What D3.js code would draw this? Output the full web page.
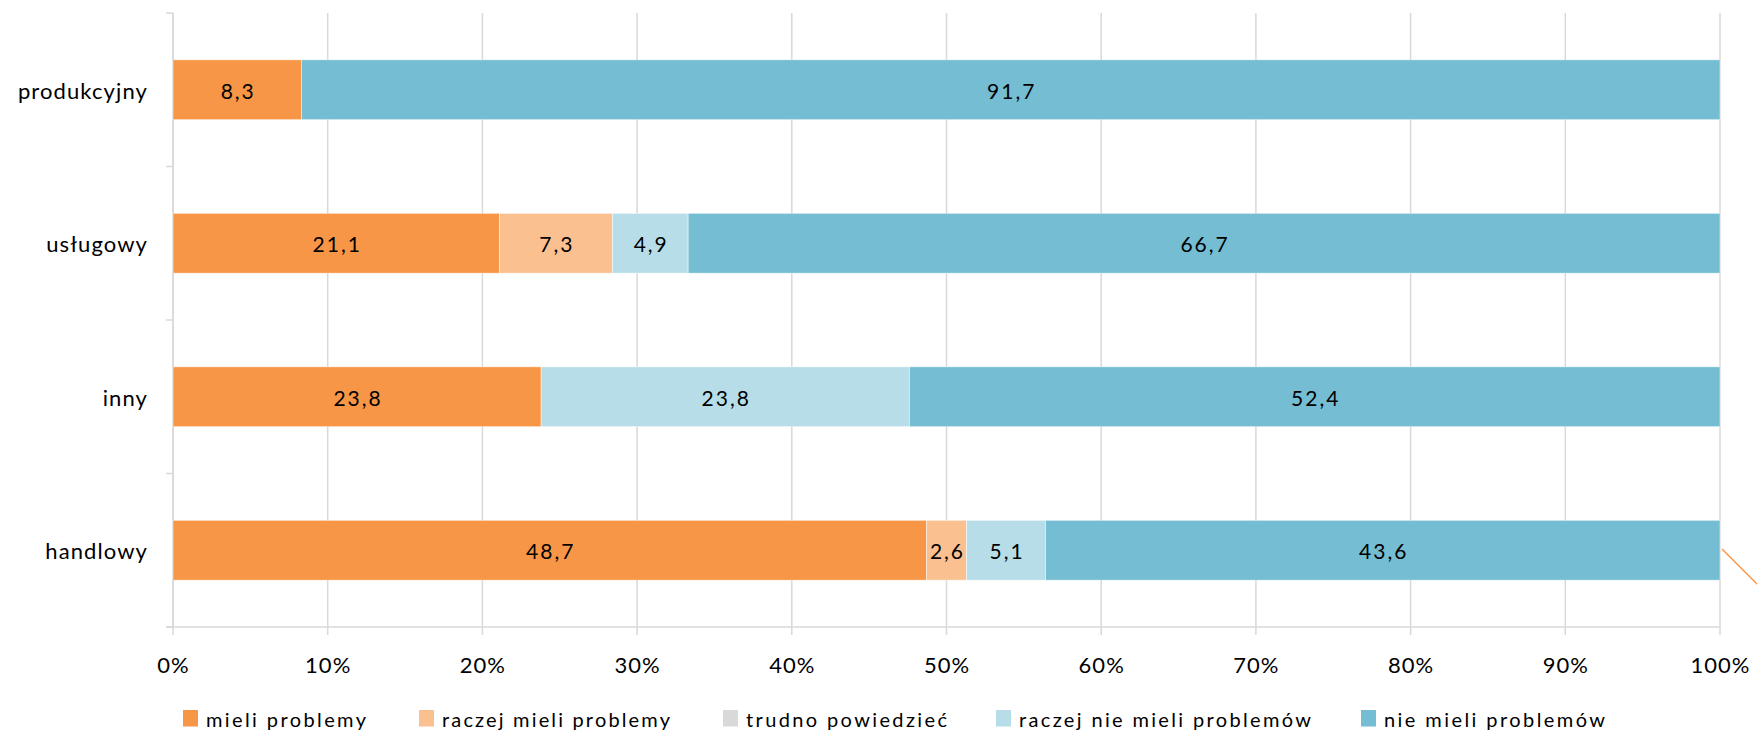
<!DOCTYPE html>
<html>
<head>
<meta charset="utf-8">
<script src="https://cdn.jsdelivr.net/npm/d3@7"></script>
<style>
  html, body { margin: 0; padding: 0; background: #fff; }
  svg { display: block; }
  text { font-family: Lato, "Open Sans", sans-serif; fill: #000; }
</style>
</head>
<body>
<svg id="chart" width="1757" height="734"></svg>
<script>
// ---- data ----
const categories = ["produkcyjny", "usługowy", "inny", "handlowy"];
const seriesNames = ["mieli problemy", "raczej mieli problemy", "trudno powiedzieć", "raczej nie mieli problemów", "nie mieli problemów"];
const mieliProblemy        = [8.3, 21.1, 23.8, 48.7];
const raczejMieliProblemy  = [0,   7.3,  0,    2.6];
const trudnoPowiedziec     = [0,   0,    0,    0];
const raczejNieMieli       = [0,   4.9,  23.8, 5.1];
const nieMieli             = [91.7, 66.7, 52.4, 43.6];
const tickValues = [0, 10, 20, 30, 40, 50, 60, 70, 80, 90, 100];
const tickLabels = ["0%", "10%", "20%", "30%", "40%", "50%", "60%", "70%", "80%", "90%", "100%"];
const colors = ["#F79646", "#FAC090", "#D9D9D9", "#B7DEE8", "#74BDD3"];

const seriesValues = [mieliProblemy, raczejMieliProblemy, trudnoPowiedziec, raczejNieMieli, nieMieli];
const table = categories.map((c, i) => {
  const row = { cat: c };
  seriesNames.forEach((s, j) => row[s] = seriesValues[j][i]);
  return row;
});

const svg = d3.select("#chart");
const x = d3.scaleLinear().domain([0, 100]).range([173, 1720]);
const y = d3.scaleBand().domain(categories).range([13, 627]).paddingInner(0.61).paddingOuter(0.305);
const step = y.step();

// gridlines
svg.append("g").selectAll("line").data(tickValues).join("line")
  .attr("x1", d => x(d)).attr("x2", d => x(d))
  .attr("y1", 13).attr("y2", 635)
  .attr("stroke", "#D9D9D9").attr("stroke-width", 1.5);

// left axis line + category ticks
svg.append("line").attr("x1", x(0)).attr("x2", x(0)).attr("y1", 13).attr("y2", 627)
  .attr("stroke", "#D9D9D9").attr("stroke-width", 1.5);
svg.append("g").selectAll("line").data(d3.range(categories.length + 1)).join("line")
  .attr("x1", x(0) - 7).attr("x2", x(0))
  .attr("y1", i => 13 + i * step).attr("y2", i => 13 + i * step)
  .attr("stroke", "#D9D9D9").attr("stroke-width", 1.5);
// bottom axis line
svg.append("line").attr("x1", x(0) - 7).attr("x2", x(100)).attr("y1", 627).attr("y2", 627)
  .attr("stroke", "#D9D9D9").attr("stroke-width", 1.5);

// stacked bars
const stack = d3.stack().keys(seriesNames)(table);
const layers = svg.append("g").selectAll("g").data(stack).join("g")
  .attr("fill", (d, i) => colors[i]);
layers.selectAll("rect").data(d => d).join("rect")
  .attr("x", d => x(d[0]))
  .attr("width", d => x(d[1]) - x(d[0]))
  .attr("y", d => y(d.data.cat))
  .attr("height", y.bandwidth())
  .attr("stroke", "#ffffff").attr("stroke-width", 0.8).attr("stroke-opacity", 0.6);

// data labels
const fmt = v => d3.format(".1f")(v).replace(".", ",");
layers.selectAll("text").data(d => d.filter(p => p[1] - p[0] > 0)).join("text")
  .attr("x", d => (x(d[0]) + x(d[1])) / 2 + 1)
  .attr("y", d => y(d.data.cat) + y.bandwidth() / 2)
  .attr("dy", "0.42em")
  .attr("text-anchor", "middle")
  .attr("font-size", 21)
  .attr("letter-spacing", 2)
  .text(d => fmt(d[1] - d[0]));

// category labels
svg.append("g").selectAll("text").data(categories).join("text")
  .attr("x", 148)
  .attr("y", d => y(d) + y.bandwidth() / 2)
  .attr("dy", "0.42em")
  .attr("text-anchor", "end")
  .attr("font-size", 22)
  .attr("letter-spacing", 1.1)
  .text(d => d);

// x tick labels
svg.append("g").selectAll("text").data(tickValues).join("text")
  .attr("x", d => x(d) + 0.5)
  .attr("y", 672.5)
  .attr("text-anchor", "middle")
  .attr("font-size", 22)
  .attr("letter-spacing", 1)
  .text((d, i) => tickLabels[i]);

// legend
const legendX = [183, 419, 723, 996, 1361];
const legendW = [160, 228, 201, 292, 221];
const lg = svg.append("g").selectAll("g").data(seriesNames).join("g")
  .attr("transform", (d, i) => `translate(${legendX[i]},710)`);
lg.append("rect").attr("width", 15).attr("height", 16.5).attr("fill", (d, i) => colors[i]);
lg.append("text").attr("x", 23).attr("y", 17)
  .attr("font-size", 20)
  .attr("textLength", (d, i) => legendW[i])
  .attr("lengthAdjust", "spacing")
  .text(d => d);

// stray orange connector line at right edge
svg.append("line").attr("x1", 1722).attr("y1", 549).attr("x2", 1770).attr("y2", 597)
  .attr("stroke", "#F79646").attr("stroke-width", 1.5);
</script>
</body>
</html>
